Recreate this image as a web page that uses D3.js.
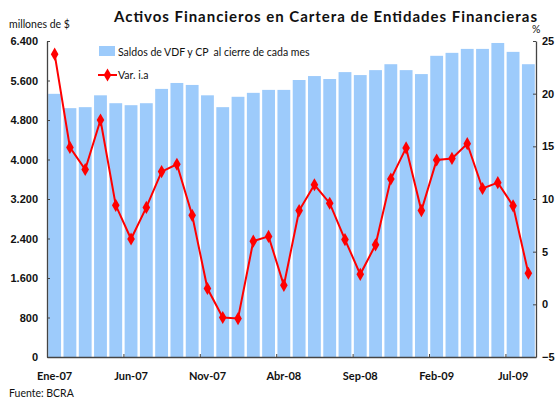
<!DOCTYPE html>
<html>
<head>
<meta charset="utf-8">
<script src="https://cdn.jsdelivr.net/npm/d3@7"></script>
<style>
  body { margin: 0; background: #fff; }
  svg { display: block; font-family: Lato, "Open Sans", sans-serif; }
  .tick text { font-weight: bold; font-size: 11px; fill: #111; }
</style>
</head>
<body>
<svg id="chart" width="555" height="400"></svg>
<script>
// months Ene-07 .. Ago-09
const months = ['Ene-07','Feb-07','Mar-07','Abr-07','May-07','Jun-07','Jul-07','Ago-07','Sep-07','Oct-07','Nov-07','Dic-07',
  'Ene-08','Feb-08','Mar-08','Abr-08','May-08','Jun-08','Jul-08','Ago-08','Sep-08','Oct-08','Nov-08','Dic-08',
  'Ene-09','Feb-09','Mar-09','Abr-09','May-09','Jun-09','Jul-09','Ago-09'];
const saldos = [5330, 5040, 5060, 5300, 5140, 5100, 5140, 5430, 5550, 5510, 5300, 5060,
  5270, 5350, 5410, 5410, 5610, 5690, 5630, 5770, 5710, 5810, 5930, 5810,
  5730, 6100, 6160, 6240, 6240, 6360, 6180, 5930];
const varIa = [23.75, 14.9, 12.8, 17.5, 9.4, 6.2, 9.2, 12.6, 13.3, 8.45, 1.5, -1.25,
  -1.35, 6.0, 6.45, 1.8, 8.9, 11.35, 9.6, 6.15, 2.85, 5.65, 11.9, 14.85,
  8.9, 13.7, 13.85, 15.25, 11.0, 11.55, 9.35, 2.95];
const xLabels = ['Ene-07','Jun-07','Nov-07','Abr-08','Sep-08','Feb-09','Jul-09'];
const leftTicks = [0, 800, 1600, 2400, 3200, 4000, 4800, 5600, 6400];
const rightTicks = [-5, 0, 5, 10, 15, 20, 25];

const svg = d3.select('#chart');
const m = { left: 47, right: 536, top: 41, bottom: 357 };

const x = d3.scaleBand().domain(months).range([m.left, m.right]).paddingInner(0.16).paddingOuter(0.08);
const yL = d3.scaleLinear().domain([0, 6400]).range([m.bottom, m.top]);
const yR = d3.scaleLinear().domain([-5, 25]).range([m.bottom, m.top]);

const fmt = d3.formatLocale({ decimal: ',', thousands: '.', grouping: [3], currency: ['$', ''] }).format(',d');

// bars
svg.append('g').selectAll('rect')
  .data(saldos)
  .enter().append('rect')
  .attr('x', (d, i) => x(months[i]))
  .attr('width', x.bandwidth())
  .attr('y', d => yL(d))
  .attr('height', d => yL(0) - yL(d))
  .attr('fill', '#9dcbfb');

// axes
const axL = svg.append('g').attr('transform', `translate(${m.left},0)`)
  .call(d3.axisLeft(yL).tickValues(leftTicks).tickFormat(fmt).tickSizeInner(-3).tickSizeOuter(0).tickPadding(9));
const axR = svg.append('g').attr('transform', `translate(${m.right},0)`)
  .call(d3.axisRight(yR).tickValues(rightTicks).tickSizeInner(-3).tickSizeOuter(0).tickPadding(6));

const xb = d3.scaleLinear().domain([0, months.length]).range([m.left, m.right]);
const axB = svg.append('g').attr('transform', `translate(0,${m.bottom})`)
  .call(d3.axisBottom(xb).tickValues(d3.range(0, months.length, 5)).tickSizeInner(-3).tickSizeOuter(0)
    .tickFormat(() => ''));
svg.append('g').selectAll('text')
  .data(xLabels)
  .enter().append('text')
  .attr('x', d => x(d) + x.bandwidth() / 2)
  .attr('y', 380)
  .attr('text-anchor', 'middle')
  .attr('font-size', 11).attr('font-weight', 'bold').attr('fill', '#111')
  .text(d => d);

[axL, axR, axB].forEach(a => {
  a.selectAll('.domain').attr('stroke', '#444').attr('stroke-width', 1.3);
  a.selectAll('.tick line').attr('stroke', '#444');
});
axR.selectAll('.tick text').attr('text-anchor', 'start');

// line
const line = d3.line().x((d, i) => x(months[i]) + x.bandwidth() / 2).y(d => yR(d));
svg.append('path').datum(varIa).attr('d', line)
  .attr('fill', 'none').attr('stroke', '#ff0000').attr('stroke-width', 2);
const sym = d3.symbol().type(d3.symbolDiamond).size(50);
svg.append('g').selectAll('path')
  .data(varIa)
  .enter().append('path')
  .attr('d', sym)
  .attr('transform', (d, i) => `translate(${x(months[i]) + x.bandwidth() / 2},${yR(d)})`)
  .attr('fill', '#ff0000');

// titles
svg.append('text').attr('x', 114).attr('y', 22)
  .attr('font-size', 15).attr('font-weight', 'bold').attr('fill', '#111')
  .attr('textLength', 423).attr('lengthAdjust', 'spacing')
  .text('Activos Financieros en Cartera de Entidades Financieras');
svg.append('text').attr('x', 9).attr('y', 28).attr('font-size', 10.5).attr('fill', '#111').text('millones de $');
svg.append('text').attr('x', 532).attr('y', 33).attr('font-size', 10.5).attr('fill', '#111').text('%');
svg.append('text').attr('x', 9).attr('y', 397).attr('font-size', 10.5).attr('fill', '#111').text('Fuente: BCRA');

// legend
const lg = svg.append('g');
lg.append('rect').attr('x', 99).attr('y', 46).attr('width', 16).attr('height', 10).attr('fill', '#9dcbfb');
lg.append('text').attr('x', 118).attr('y', 55.5).attr('font-size', 10.5).attr('fill', '#111')
  .text('Saldos de VDF y CP  al cierre de cada mes').style('white-space', 'pre');
lg.append('line').attr('x1', 98).attr('x2', 117).attr('y1', 75).attr('y2', 75)
  .attr('stroke', '#ff0000').attr('stroke-width', 2);
lg.append('path').attr('d', sym).attr('transform', 'translate(107.5,75)').attr('fill', '#ff0000');
lg.append('text').attr('x', 118).attr('y', 79).attr('font-size', 10.5).attr('fill', '#111').text('Var. i.a');
</script>
</body>
</html>
